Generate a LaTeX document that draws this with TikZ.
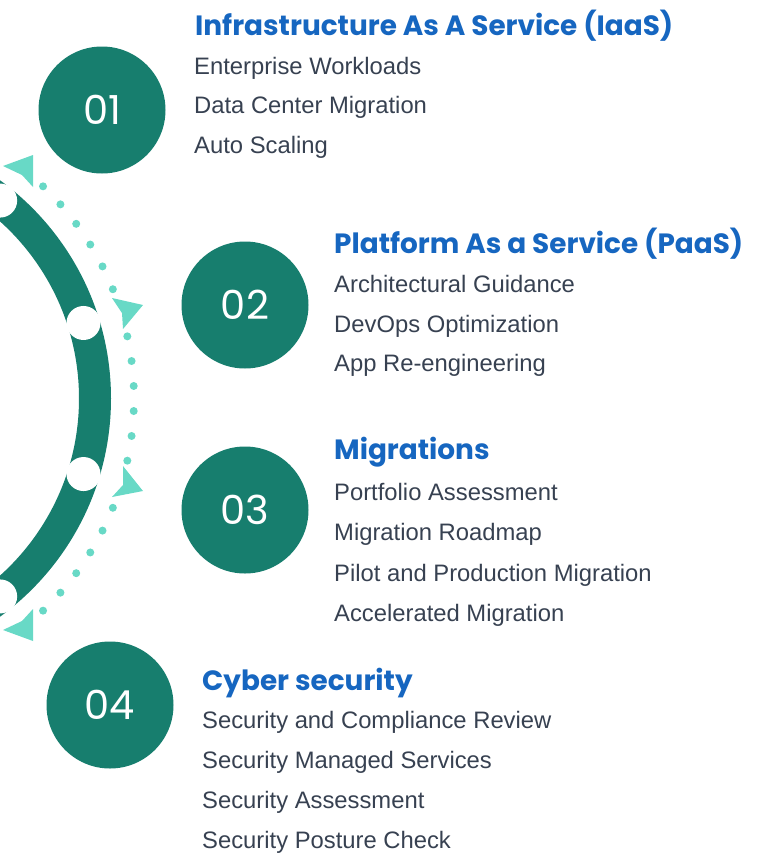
\documentclass[tikz,border=0pt]{standalone}
\usepackage{fontspec}
\setmainfont{Liberation Sans}
\newfontfamily\titlefont{Poppins Bold}
\newfontfamily\numfont{Poppins}
\usetikzlibrary{calc}
\definecolor{circteal}{HTML}{177E6E}
\definecolor{minty}{HTML}{68D9C6}
\definecolor{titleblue}{HTML}{1666C0}
\definecolor{bodygray}{HTML}{374151}
\begin{document}
\begin{tikzpicture}[x=1pt,y=-1pt,
  numcirc/.style={circle,fill=circteal,minimum size=127pt,inner sep=0pt,text=white,font=\numfont\fontsize{40}{40}\selectfont},
  ttl/.style={anchor=base west,inner sep=0pt,text=titleblue,font=\titlefont\fontsize{27.9}{27.9}\selectfont},
  itm/.style={anchor=base west,inner sep=0pt,text=bodygray,font=\fontsize{23.8}{24}\selectfont},
  dotmark/.style={circle,fill=minty,minimum size=8pt,inner sep=0pt},
  hole/.style={circle,fill=white,minimum size=34pt,inner sep=0pt},
  arrowhead/.style={fill=minty}]
\useasboundingbox (0,0) rectangle (758,854);
\clip (0,0) rectangle (758,854);
\coordinate (C) at (-159,398.5);
% ring
\draw[circteal,line width=32pt] (C) circle[radius=254];
\foreach \a [count=\i] in {-51.2,-17.3,17.3,51.2}
  \node[hole] (h\i) at ($(C)+(\a:254)$) {};
% dotted path
\foreach \a [count=\i] in {-46.4,-41.5,-36.6,-31.7,-26.8,-21.9,-12.25,-7.35,-2.45,2.45,7.35,12.25,21.9,26.8,31.7,36.6,41.5,46.4}
  \node[dotmark] (d\i) at ($(C)+(\a:293)$) {};
% arrowheads
\fill[arrowhead] (3,166) -- (33,155) -- (33,187) -- (22,175) -- cycle;
\fill[arrowhead] (112,298) -- (143,305) -- (123,329) -- (122,313) -- cycle;
\fill[arrowhead] (123,466) -- (143,491) -- (112,497) -- (123,485) -- cycle;
\fill[arrowhead] (3,630) -- (33,641) -- (33,609) -- (22,621) -- cycle;
% number circles
\node[numcirc] (n1) at (102,110) {01};
\node[numcirc] (n2) at (245,305) {02};
\node[numcirc] (n3) at (245,510) {03};
\node[numcirc] (n4) at (110,705) {04};
% section 1
\node[ttl] (t1) at (195,35) {Infrastructure As A Service (IaaS)};
\node[itm] (i11) at (194,74) {Enterprise Workloads};
\node[itm] (i12) at (194,113) {Data Center Migration};
\node[itm] (i13) at (194,153) {Auto Scaling};
% section 2
\node[ttl] (t2) at (334,253) {Platform As a Service (PaaS)};
\node[itm] (i21) at (334,292) {Architectural Guidance};
\node[itm] (i22) at (334,332) {DevOps Optimization};
\node[itm] (i23) at (334,371) {App Re-engineering};
% section 3
\node[ttl] (t3) at (334,459) {Migrations};
\node[itm] (i31) at (334,500) {Portfolio Assessment};
\node[itm] (i32) at (334,540) {Migration Roadmap};
\node[itm] (i33) at (334,581) {Pilot and Production Migration};
\node[itm] (i34) at (334,621) {Accelerated Migration};
% section 4
\node[ttl] (t4) at (202,690) {Cyber security};
\node[itm] (i41) at (202,728) {Security and Compliance Review};
\node[itm] (i42) at (202,768) {Security Managed Services};
\node[itm] (i43) at (202,808) {Security Assessment};
\node[itm] (i44) at (202,848) {Security Posture Check};
\end{tikzpicture}
\end{document}
